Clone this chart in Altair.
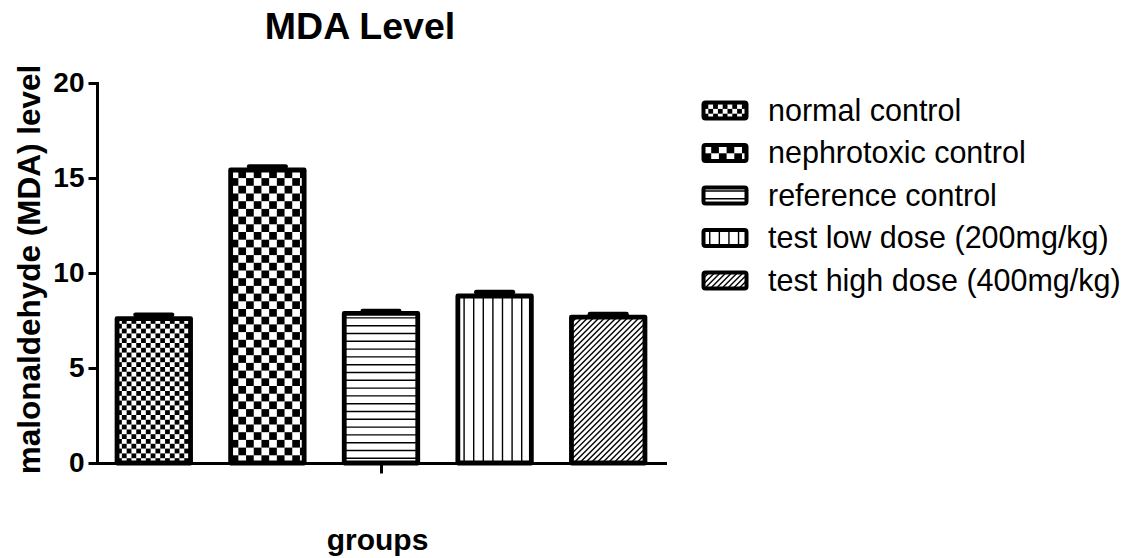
import altair as alt
import numpy as np
import pandas as pd

# ---- data -------------------------------------------------------------
groups = [
    "normal control",
    "nephrotoxic control",
    "reference control",
    "test low dose (200mg/kg)",
    "test high dose (400mg/kg)",
]
mda_mean = [7.60, 15.42, 7.87, 8.79, 7.68]
mda_sem = [0.20, 0.18, 0.12, 0.20, 0.15]
fill_styles = ["fine_check", "coarse_check", "hlines", "vlines", "diag"]
y_ticks = [0, 5, 10, 15, 20]

# ---- layout -----------------------------------------------------------
W, H = 568, 380
X_DOMAIN = [-0.5, 4.5]
Y_DOMAIN = [0, 20]
PX_X = W / (X_DOMAIN[1] - X_DOMAIN[0])   # pixels per x unit
PX_Y = H / (Y_DOMAIN[1] - Y_DOMAIN[0])   # pixels per y unit
BAR_HALF = 0.3235                        # half bar width, x units
CAP_HALF = 0.16                          # half error-cap width, x units
BORDER = 4.8
HATCH_W = 1.4
FONT = "Liberation Sans"

# legend geometry (plot-relative pixels)
SW_W, SW_H = 43, 16          # swatch outline (stroke centre line)
ROW_PITCH = 42.5
LEG_X0 = 606.5
LEG_ROW0 = 27.5 - ROW_PITCH / 2


def fill_shapes(kind, w, h):
    """Pattern primitives inside a w x h box, local pixels, y pointing up."""
    cells, segs = [], []
    if kind in ("fine_check", "coarse_check"):
        s = 4.8 if kind == "fine_check" else 7.7
        for r in range(int(np.ceil(h / s))):
            for c in range(int(np.ceil(w / s))):
                if (r + c) % 2 == 0:
                    cells.append((c * s, r * s, min((c + 1) * s, w), min((r + 1) * s, h)))
    elif kind == "hlines":
        s = 7.8
        for y in np.arange(s * 0.6, h, s):
            segs.append((0, y, w, y))
    elif kind == "vlines":
        s = 9.6
        for x in np.arange(s * 0.65, w, s):
            segs.append((x, 0, x, h))
    elif kind == "diag":
        s = 5.7
        for c in np.arange(-h, w, s):
            x0, x1 = max(0.0, c), min(w, c + h)
            if x1 > x0:
                segs.append((x0, x0 - c, x1, x1 - c))
    return cells, segs


# bars, error bars
bars = pd.DataFrame({
    "group": groups,
    "pos": range(len(groups)),
    "mean": mda_mean,
    "top": [m + s for m, s in zip(mda_mean, mda_sem)],
})
bars["left"] = bars["pos"] - BAR_HALF
bars["right"] = bars["pos"] + BAR_HALF
bars["cap_l"] = bars["pos"] - CAP_HALF
bars["cap_r"] = bars["pos"] + CAP_HALF
bars["zero"] = 0.0

# pattern pieces inside each bar, derived from the bar's own value
cell_rows, seg_rows = [], []
for i, (g, m, kind) in enumerate(zip(groups, mda_mean, fill_styles)):
    left = i - BAR_HALF
    cells, segs = fill_shapes(kind, 2 * BAR_HALF * PX_X, m * PX_Y)
    for x0, y0, x1, y1 in cells:
        cell_rows.append({"x": left + x0 / PX_X, "x2": left + x1 / PX_X,
                          "y": y0 / PX_Y, "y2": y1 / PX_Y})
    for x0, y0, x1, y1 in segs:
        seg_rows.append({"x": left + x0 / PX_X, "x2": left + x1 / PX_X,
                         "y": y0 / PX_Y, "y2": y1 / PX_Y})
bar_cells = pd.DataFrame(cell_rows)
bar_segs = pd.DataFrame(seg_rows)

# legend pieces: x in swatch widths, y in legend rows (downwards)
half_h = SW_H / 2 / ROW_PITCH
leg = pd.DataFrame({
    "group": groups,
    "x": 0.0, "x2": 1.0,
    "y": [i + 0.5 - half_h for i in range(len(groups))],
    "y2": [i + 0.5 + half_h for i in range(len(groups))],
    "ty": [i + 0.5 for i in range(len(groups))],
    "tx": 1.5,
})
lc_rows, ls_rows = [], []
for i, kind in enumerate(fill_styles):
    base = i + 0.5 + half_h
    cells, segs = fill_shapes(kind, SW_W, SW_H)
    for x0, y0, x1, y1 in cells:
        lc_rows.append({"x": x0 / SW_W, "x2": x1 / SW_W,
                        "y": base - y0 / ROW_PITCH, "y2": base - y1 / ROW_PITCH})
    for x0, y0, x1, y1 in segs:
        ls_rows.append({"x": x0 / SW_W, "x2": x1 / SW_W,
                        "y": base - y0 / ROW_PITCH, "y2": base - y1 / ROW_PITCH})
leg_cells = pd.DataFrame(lc_rows)
leg_segs = pd.DataFrame(ls_rows)

# ---- scales & axes ----------------------------------------------------
xs = alt.Scale(domain=X_DOMAIN, nice=False, zero=False)
ys = alt.Scale(domain=Y_DOMAIN, nice=False, zero=False)
lxs = alt.Scale(domain=[0, 1], range=[LEG_X0, LEG_X0 + SW_W], nice=False, zero=False)
lys = alt.Scale(domain=[0, len(groups)],
                range=[LEG_ROW0, LEG_ROW0 + ROW_PITCH * len(groups)],
                nice=False, zero=False)

x_axis = alt.Axis(
    values=[2], labels=False, tickSize=10, tickWidth=3, domainWidth=3,
    domainCap="square", tickColor="black", domainColor="black", grid=False,
    title="groups", titleFontSize=30, titleFontWeight="bold", titleFont=FONT,
    titleX=280, titleY=86, titleBaseline="alphabetic", titleColor="black",
)
y_axis = alt.Axis(
    values=y_ticks, tickSize=9, tickWidth=3, domainWidth=3, domainCap="square",
    tickColor="black", domainColor="black", grid=False,
    labelFontSize=28, labelFontWeight="bold", labelFont=FONT, labelColor="black",
    labelPadding=4,
    title="malonaldehyde (MDA) level", titleFontSize=31.5, titleFontWeight="bold",
    titleFont=FONT, titleColor="black", titleX=-58, titleY=186,
    titleBaseline="alphabetic",
)


def main_xy(xf, yf):
    return dict(
        x=alt.X(xf, scale=xs, axis=x_axis),
        y=alt.Y(yf, scale=ys, axis=y_axis),
    )


def leg_xy(xf, yf):
    return dict(
        x=alt.X(xf, scale=lxs, axis=None),
        y=alt.Y(yf, scale=lys, axis=None),
    )


# ---- main plot --------------------------------------------------------
bar_bg = alt.Chart(bars).mark_rect(fill="white").encode(
    **main_xy("left:Q", "zero:Q"), x2="right:Q", y2="mean:Q",
)
bar_fill_cells = alt.Chart(bar_cells).mark_rect(fill="black").encode(
    **main_xy("x:Q", "y:Q"), x2="x2:Q", y2="y2:Q",
)
bar_fill_lines = alt.Chart(bar_segs).mark_rule(color="black", strokeWidth=HATCH_W).encode(
    **main_xy("x:Q", "y:Q"), x2="x2:Q", y2="y2:Q",
)
bar_outline = alt.Chart(bars).mark_rect(
    fillOpacity=0, stroke="black", strokeWidth=BORDER, strokeJoin="round"
).encode(
    **main_xy("left:Q", "zero:Q"), x2="right:Q", y2="mean:Q",
)
err_stem = alt.Chart(bars).mark_rule(color="black", strokeWidth=BORDER).encode(
    **main_xy("pos:Q", "mean:Q"), y2="top:Q",
)
err_cap = alt.Chart(bars).mark_rule(color="black", strokeWidth=BORDER, strokeCap="round").encode(
    **main_xy("cap_l:Q", "top:Q"), x2="cap_r:Q",
)
main = alt.layer(bar_bg, bar_fill_cells, bar_fill_lines, bar_outline, err_stem, err_cap)

# ---- legend -----------------------------------------------------------
leg_bg = alt.Chart(leg).mark_rect(fill="white").encode(
    **leg_xy("x:Q", "y:Q"), x2="x2:Q", y2="y2:Q",
)
leg_fill_cells = alt.Chart(leg_cells).mark_rect(fill="black").encode(
    **leg_xy("x:Q", "y:Q"), x2="x2:Q", y2="y2:Q",
)
leg_fill_lines = alt.Chart(leg_segs).mark_rule(color="black", strokeWidth=HATCH_W).encode(
    **leg_xy("x:Q", "y:Q"), x2="x2:Q", y2="y2:Q",
)
leg_outline = alt.Chart(leg).mark_rect(
    fillOpacity=0, stroke="black", strokeWidth=4, cornerRadius=2, strokeJoin="round"
).encode(
    **leg_xy("x:Q", "y:Q"), x2="x2:Q", y2="y2:Q",
)
leg_text = alt.Chart(leg).mark_text(
    align="left", baseline="middle", font=FONT, fontSize=30.5, color="black", dy=1
).encode(
    **leg_xy("tx:Q", "ty:Q"), text="group:N",
)
legend = alt.layer(leg_bg, leg_fill_cells, leg_fill_lines, leg_outline, leg_text)

chart = alt.layer(main, legend).resolve_scale(
    x="independent", y="independent"
).properties(
    width=W, height=H,
    title=alt.TitleParams(
        "MDA Level", font=FONT, fontSize=37.5, fontWeight="bold", color="black",
        anchor="middle", dx=-21, dy=23, offset=11, baseline="alphabetic",
    ),
    autosize=alt.AutoSizeParams(type="none"),
    padding={"left": 97, "top": 83, "right": 1128 - 97 - W, "bottom": 558 - 83 - H},
).configure(font=FONT, background="white").configure_view(stroke="transparent")

chart.save("out.html", embed_options={"renderer": "svg", "actions": False})
